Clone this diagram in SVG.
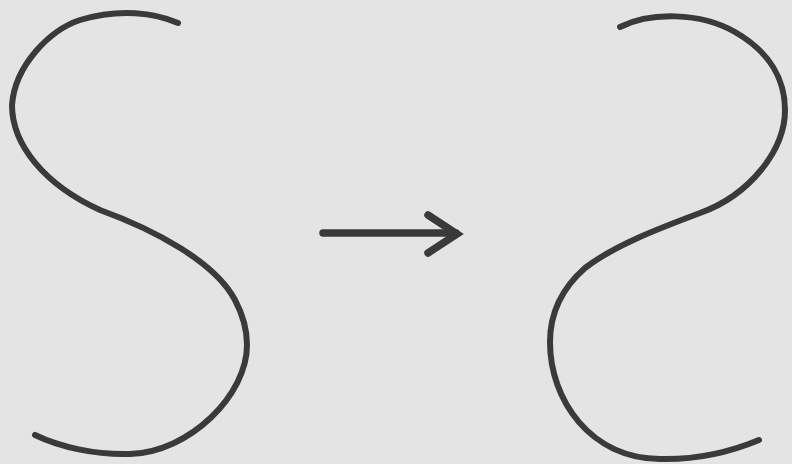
<svg xmlns="http://www.w3.org/2000/svg" width="792" height="464" viewBox="0 0 792 464">
  <style>
    .curve { fill: none; stroke: #3a3a3a; stroke-width: 6; stroke-linecap: round; stroke-linejoin: round; }
    .arrow { fill: none; stroke: #3a3a3a; stroke-width: 7.5; stroke-linecap: round; stroke-linejoin: miter; }
  </style>
  <rect x="0" y="0" width="792" height="464" fill="#e4e4e4"/>
  <g id="left-s">
    <path class="curve" d="M178,23 C155,13 120,8 80,20 C50,30 15,65 12,105 C12,145 45,185 100,210 C155,230 215,262 235,300 C243,315 247,330 247,345 C247,395 190,452 130,454 C95,455 60,447 35,435"/>
  </g>
  <g id="right-s">
    <path class="curve" d="M620,27 C650,12 700,12 735,32 C770,52 785,80 785,110 C785,150 750,195 700,213 C660,228 615,245 585,268 C560,290 550,315 550,342 C550,400 590,458 660,459 C700,460 735,450 759,440"/>
  </g>
  <g id="connectors">
    <path class="arrow" d="M323,233 L456,233"/>
    <path class="arrow" d="M428,215 L457,234 L428,253"/>
  </g>
</svg>
